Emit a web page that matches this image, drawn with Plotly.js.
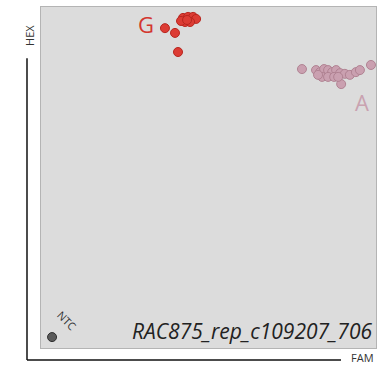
<!DOCTYPE html>
<html><head><meta charset="utf-8">
<script src="https://cdn.plot.ly/plotly-3.0.1.min.js"></script>
<style>html,body{margin:0;padding:0;background:#fff}#c{width:377px;height:365px}</style>
</head><body><div id="c"></div>
<script>
const gFam = [0.424,0.439,0.454,0.463,0.430,0.445,0.418,0.436,0.370,0.400,0.409];
const gHex = [0.968,0.971,0.971,0.965,0.956,0.956,0.959,0.962,0.938,0.924,0.868];
const aFam = [0.779,0.821,0.833,0.845,0.857,0.869,0.881,0.893,0.907,0.839,0.857,0.875,0.922,0.940,0.952,0.896,0.985,0.827,0.887];
const aHex = [0.818,0.815,0.809,0.818,0.815,0.809,0.815,0.806,0.804,0.795,0.795,0.795,0.801,0.809,0.815,0.774,0.830,0.801,0.795];
const ntcFam = [0.033];
const ntcHex = [0.032];
const title = "RAC875_rep_c109207_706";

const mk = (c, l) => ({size: 9, color: c, line: {color: l, width: 1}});
const data = [
  {x: aFam, y: aHex, mode: 'markers', type: 'scatter', marker: mk('#caa0b0', '#b08292'), hoverinfo: 'none'},
  {x: gFam, y: gHex, mode: 'markers', type: 'scatter', marker: mk('#dc3c34', '#b8261f'), hoverinfo: 'none'},
  {x: ntcFam, y: ntcHex, mode: 'markers', type: 'scatter', marker: mk('#5a5a5a', '#2e2e2e'), hoverinfo: 'none'}
];
const font = "Open Sans, Noto Sans, sans-serif";
const layout = {
  width: 377, height: 365,
  margin: {l: 41, r: 1, t: 7, b: 17},
  paper_bgcolor: '#ffffff', plot_bgcolor: '#dcdcdc',
  showlegend: false,
  xaxis: {range: [0, 1], showgrid: false, zeroline: false, showticklabels: false, ticks: '',
          showline: true, mirror: true, linecolor: '#b4b4b4', linewidth: 1},
  yaxis: {range: [0, 1], showgrid: false, zeroline: false, showticklabels: false, ticks: '',
          showline: true, mirror: true, linecolor: '#b4b4b4', linewidth: 1},
  shapes: [
    {type: 'line', xref: 'paper', yref: 'paper', x0: -0.0418, x1: -0.0418, y0: -0.0352, y1: 0.850, line: {color: '#111', width: 1.5}},
    {type: 'line', xref: 'paper', yref: 'paper', x0: -0.0418, x1: 0.8955, y0: -0.0352, y1: -0.0352, line: {color: '#111', width: 1.5}}
  ],
  annotations: [
    {x: 0.313, y: 0.950, xref: 'x', yref: 'y', text: 'G', showarrow: false, font: {family: font, size: 22, color: '#d3362f'}},
    {x: 0.958, y: 0.721, xref: 'x', yref: 'y', text: 'A', showarrow: false, font: {family: font, size: 22, color: '#c9a2b0'}},
    {x: 0.077, y: 0.080, xref: 'x', yref: 'y', text: 'NTC', showarrow: false, textangle: 45, font: {family: font, size: 11, color: '#333'}},
    {x: 0.995, y: 0.05, xref: 'paper', yref: 'paper', xanchor: 'right', yanchor: 'middle', text: '<i>' + title + '</i>', showarrow: false, font: {family: font, size: 21, color: '#222'}},
    {x: -0.033, y: 0.918, xref: 'paper', yref: 'paper', xanchor: 'center', yanchor: 'middle', text: 'HEX', textangle: -90, showarrow: false, font: {family: font, size: 11, color: '#333'}},
    {x: 0.961, y: -0.028, xref: 'paper', yref: 'paper', xanchor: 'center', yanchor: 'middle', borderpad: 0, text: 'FAM', showarrow: false, font: {family: font, size: 11, color: '#333'}}
  ]
};
Plotly.newPlot('c', data, layout, {staticPlot: true, displayModeBar: false});
</script></body></html>
